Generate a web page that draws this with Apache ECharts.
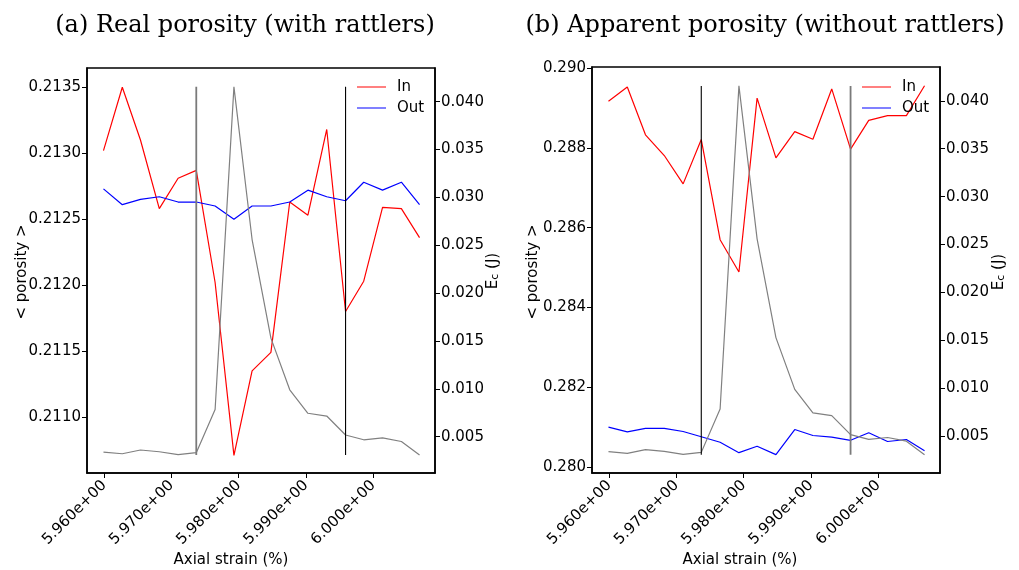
<!DOCTYPE html>
<html>
<head>
<meta charset="utf-8">
<script src="https://cdn.jsdelivr.net/npm/echarts@6/dist/echarts.min.js"></script>
<style>
  html, body { margin: 0; padding: 0; background: #fff; }
  #chart { width: 1019px; height: 570px; }
</style>
</head>
<body>
<div id="chart"></div>
<script>
// axial strain (%) of each sample
const strain = [5.9599, 5.9627, 5.9654, 5.9682, 5.9710, 5.9737, 5.9765, 5.9793, 5.9820,
  5.9848, 5.9876, 5.9903, 5.9931, 5.9959, 5.9986, 6.0014, 6.0042, 6.0069]
// (a) real porosity, with rattlers
const realIn = [0.21302, 0.21350, 0.21310, 0.21258, 0.21281, 0.21287, 0.21202, 0.21071, 0.21135,
  0.21149, 0.21263, 0.21253, 0.21318, 0.21180, 0.21203, 0.21259, 0.21258, 0.21236]
const realOut = [0.21273, 0.21261, 0.21265, 0.21267, 0.21263, 0.21263, 0.21260, 0.21250, 0.21260,
  0.21260, 0.21263, 0.21272, 0.21267, 0.21264, 0.21278, 0.21272, 0.21278, 0.21261]
// (b) apparent porosity, without rattlers
const appIn = [0.28917, 0.28953, 0.28833, 0.28781, 0.28710, 0.28821, 0.28570, 0.28489, 0.28925,
  0.28775, 0.28841, 0.28822, 0.28948, 0.28797, 0.28869, 0.28881, 0.28881, 0.28956]
const appOut = [0.28100, 0.28088, 0.28097, 0.28097, 0.28089, 0.28076, 0.28062, 0.28036, 0.28052,
  0.28031, 0.28094, 0.28079, 0.28075, 0.28067, 0.28086, 0.28064, 0.28069, 0.28041]
// kinetic energy Ec (J), same in both panels
const ec = [0.00340, 0.00322, 0.00361, 0.00343, 0.00312, 0.00333, 0.00785, 0.04155, 0.02560,
  0.01530, 0.00990, 0.00745, 0.00716, 0.00518, 0.00468, 0.00488, 0.00450, 0.00309]
// strain of the two marker lines
const bandStrain = [strain[5], strain[13]]

// tick labels
const strainTicks = [5.96, 5.97, 5.98, 5.99, 6.00]
const realTicks = [0.2110, 0.2115, 0.2120, 0.2125, 0.2130, 0.2135]
const appTicks = [0.280, 0.282, 0.284, 0.286, 0.288, 0.290]
const ecTicks = [0.005, 0.010, 0.015, 0.020, 0.025, 0.030, 0.035, 0.040]

const chart = echarts.init(document.getElementById('chart'))

const tickFont = { fontFamily: 'DejaVu Sans', fontSize: 15, color: '#000' }
const ecMin = Math.min(...ec)
const ecMax = Math.max(...ec)
const pair = (xs, ys) => xs.map((x, i) => [x, ys[i]])

function xAxisOf(gridIndex) {
  return {
    type: 'value', gridIndex: gridIndex,
    min: 5.95745, max: 6.0092,
    splitLine: { show: false },
    axisLine: { lineStyle: { color: '#000', width: 1.5 } },
    axisTick: { customValues: strainTicks, length: 5, lineStyle: { color: '#000' } },
    axisLabel: Object.assign({
      customValues: strainTicks, rotate: 45, margin: 10,
      formatter: v => v.toFixed(3) + 'e+00'
    }, tickFont)
  }
}

function yAxisOf(gridIndex, pos, min, max, ticks, digits) {
  return {
    type: 'value', gridIndex: gridIndex, position: pos,
    min: min, max: max,
    splitLine: { show: false },
    axisLine: { show: true, lineStyle: { color: '#000', width: 1.5 } },
    axisTick: { customValues: ticks, length: 5, lineStyle: { color: '#000' } },
    axisLabel: Object.assign({
      customValues: ticks, margin: 6,
      formatter: v => v.toFixed(digits)
    }, tickFont)
  }
}

function lineOf(name, data, color, xi, yi) {
  return {
    name: name, type: 'line', xAxisIndex: xi, yAxisIndex: yi,
    data: data, symbol: 'none', silent: true,
    lineStyle: { color: color, width: 1.2 }, itemStyle: { color: color }
  }
}

function vline(x, color, width, xi, yi) {
  return {
    type: 'line', xAxisIndex: xi, yAxisIndex: yi, symbol: 'none', silent: true,
    data: [[x, ecMin], [x, ecMax]],
    lineStyle: { color: color, width: width }
  }
}

function legendOf(left) {
  return {
    data: ['In', 'Out'], orient: 'vertical', left: left, top: 79, padding: 0,
    itemWidth: 29, itemHeight: 16, itemGap: 5, icon: 'path://M0,8 L29,8 L29,9 L0,9 Z',
    textStyle: { fontFamily: 'DejaVu Sans', fontSize: 15, lineHeight: 16, color: '#000', padding: [0, 0, 0, 6] },
    selectedMode: false
  }
}

function text(x, y, str, font, rot) {
  return {
    type: 'text', x: x, y: y, rotation: rot || 0, silent: true,
    style: { text: str, font: font, fill: '#000', align: 'center', verticalAlign: 'middle' }
  }
}

function ecLabel(x, y) {
  return {
    type: 'text', x: x, y: y, rotation: Math.PI / 2, silent: true,
    style: {
      text: '{a|E}{b|c}{a| (J)}', fill: '#000', align: 'center', verticalAlign: 'middle',
      rich: {
        a: { fontFamily: 'DejaVu Sans', fontSize: 15, fill: '#000', verticalAlign: 'bottom', lineHeight: 18 },
        b: { fontFamily: 'DejaVu Sans', fontSize: 11, fill: '#000', verticalAlign: 'bottom', lineHeight: 14 }
      }
    }
  }
}

const option = {
  animation: false,
  backgroundColor: '#fff',
  grid: [
    { left: 87, top: 68, width: 348, height: 405, show: true, borderColor: '#000', borderWidth: 1.5 },
    { left: 592, top: 67, width: 348, height: 406, show: true, borderColor: '#000', borderWidth: 1.5 }
  ],
  xAxis: [xAxisOf(0), xAxisOf(1)],
  yAxis: [
    yAxisOf(0, 'left', 0.210576, 0.213646, realTicks, 4),
    yAxisOf(0, 'right', 0.00121, 0.04352, ecTicks, 3),
    yAxisOf(1, 'left', 0.27985, 0.29003, appTicks, 3),
    yAxisOf(1, 'right', 0.00118, 0.04352, ecTicks, 3)
  ],
  legend: [legendOf(357), legendOf(862)],
  series: [
    lineOf('In', pair(strain, realIn), '#ff0000', 0, 0),
    lineOf('Out', pair(strain, realOut), '#0000ff', 0, 0),
    lineOf('Ec', pair(strain, ec), '#808080', 0, 1),
    vline(bandStrain[0], '#7a7a7a', 1.8, 0, 1),
    vline(bandStrain[1], '#000', 1.1, 0, 1),
    lineOf('In', pair(strain, appIn), '#ff0000', 1, 2),
    lineOf('Out', pair(strain, appOut), '#0000ff', 1, 2),
    lineOf('Ec', pair(strain, ec), '#808080', 1, 3),
    vline(bandStrain[0], '#000', 1.1, 1, 3),
    vline(bandStrain[1], '#7a7a7a', 1.8, 1, 3)
  ],
  graphic: [
    text(245, 26, '(a) Real porosity (with rattlers)', '24px "DejaVu Serif"'),
    text(765, 26, '(b) Apparent porosity (without rattlers)', '24px "DejaVu Serif"'),
    text(231, 560, 'Axial strain (%)', '15px "DejaVu Sans"'),
    text(740, 560, 'Axial strain (%)', '15px "DejaVu Sans"'),
    text(22, 272, '< porosity >', '15px "DejaVu Sans"', Math.PI / 2),
    text(533, 272, '< porosity >', '15px "DejaVu Sans"', Math.PI / 2),
    ecLabel(492, 271),
    ecLabel(998, 272)
  ]
}

chart.setOption(option)
</script>
</body>
</html>
